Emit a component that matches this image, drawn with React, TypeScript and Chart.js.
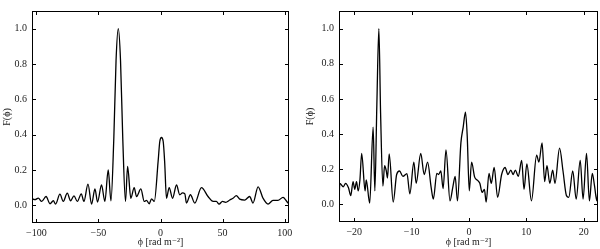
import React, { useEffect, useRef } from "react";
import { Chart, registerables } from "chart.js";
Chart.register(...registerables);

// ---- Data ----
const leftPhi = [
  -103.5, -101.1, -98.4, -95.7, -92.2, -89.0, -86.3, -84.5, -81.0, -78.3,
  -75.1, -72.4, -69.7, -67.0, -63.8, -61.7, -58.4, -55.5, -52.8, -50.7,
  -47.5, -44.8, -42.1, -39.9, -37.6, -35.8, -34.0, -32.2, -30.4, -28.2,
  -26.5, -23.9, -21.2, -19.3, -15.8, -13.1, -11.3, -9.1, -7.2, -5.0,
  -1.9, -0.6, 0.8, 2.2, 3.4, 4.8, 7.0, 9.7, 12.9, 15.5,
  17.7, 19.6, 20.9, 24.1, 27.6, 33.0, 38.3, 42.4, 45.0, 47.2,
  49.9, 52.5, 55.8, 58.4, 61.1, 63.8, 67.8, 71.8, 74.5, 78.6,
  82.6, 86.6, 90.6, 94.6, 98.7, 102.7, 103.5,
];
const leftF = [
  0.037, 0.032, 0.041, 0.022, 0.05, 0.009, 0.026, 0.007, 0.063, 0.022,
  0.069, 0.026, 0.054, 0.022, 0.065, 0.022, 0.12, 0.007, 0.093, 0.019,
  0.115, 0.022, 0.2, 0.025, 0.38, 0.82, 1.0, 0.82, 0.38, 0.022,
  0.22, 0.04, 0.1, 0.05, 0.093, 0.022, 0.028, 0.009, 0.037, 0.022,
  0.25, 0.36, 0.384, 0.36, 0.24, 0.04, 0.1, 0.04, 0.115, 0.06,
  0.07, 0.065, 0.013, 0.06, 0.013, 0.1, 0.05, 0.022, 0.022, 0.007,
  0.022, 0.017, 0.03, 0.04, 0.055, 0.035, 0.03, 0.05, 0.013, 0.105,
  0.04, 0.007, 0.028, 0.028, 0.045, 0.013, 0.01,
];

const rightPhi = [
  -22.65, -22.5, -21.9, -21.5, -21.0, -20.6, -20.2, -19.9, -19.6, -19.3,
  -19.0, -18.7, -18.1, -17.9, -17.3, -16.7, -16.4, -16.05, -15.7, -15.4,
  -15.0, -14.7, -14.4, -14.2, -13.9, -13.2, -12.6, -12.1, -11.5, -10.8,
  -10.3, -9.6, -9.2, -8.4, -7.8, -7.2, -6.6, -6.2, -5.6, -5.3,
  -4.9, -4.5, -4.0, -3.3, -2.8, -2.4, -2.0, -1.4, -1.0, -0.6,
  -0.3, 0.06, 0.46, 1.0, 1.5, 1.9, 2.3, 2.7, 3.0, 3.5,
  3.9, 4.4, 5.0, 5.7, 6.3, 6.8, 7.3, 7.7, 8.1, 8.6,
  9.2, 9.6, 10.1, 10.9, 11.8, 12.2, 12.75, 13.2, 13.6, 14.1,
  14.6, 15.0, 15.8, 16.4, 17.0, 17.4, 18.1, 18.7, 19.4, 19.9,
  20.5, 21.0, 21.5, 21.9, 22.3, 22.7,
];
const rightF = [
  0.02, 0.12, 0.1, 0.12, 0.095, 0.05, 0.13, 0.086, 0.13, 0.077,
  0.14, 0.29, 0.077, 0.14, 0.007, 0.44, 0.077, 0.57, 1.0, 0.52,
  0.104, 0.22, 0.19, 0.15, 0.287, 0.013, 0.17, 0.19, 0.16, 0.175,
  0.06, 0.24, 0.12, 0.29, 0.17, 0.24, 0.1, 0.03, 0.177, 0.17,
  0.19, 0.09, 0.31, 0.02, 0.1, 0.16, 0.02, 0.35, 0.44, 0.525,
  0.39, 0.077, 0.24, 0.155, 0.137, 0.12, 0.068, 0.086, 0.013, 0.177,
  0.12, 0.21, 0.04, 0.17, 0.21, 0.17, 0.195, 0.17, 0.195, 0.16,
  0.25, 0.086, 0.23, 0.02, 0.28, 0.24, 0.35, 0.13, 0.22, 0.12,
  0.195, 0.12, 0.32, 0.19, 0.05, 0.04, 0.19, 0.03, 0.25, 0.03,
  0.29, 0.02, 0.177, 0.104, 0.02, 0.24,
];

const leftXTicks = [-100, -50, 0, 50, 100];
const rightXTicks = [-20, -10, 0, 10, 20];
const yTicks = [0, 0.2, 0.4, 0.6, 0.8, 1.0];
const yTitle = "F(ϕ)";
const xTitle = "ϕ [rad m⁻²]";

const FONT = "'Liberation Serif', 'DejaVu Serif', serif";

const framePlugin = {
  id: "frameTicks",
  afterDatasetsDraw(chart: any) {
    const { ctx, chartArea: a, scales } = chart;
    ctx.save();
    ctx.strokeStyle = "#000";
    ctx.lineWidth = 1;
    ctx.strokeRect(a.left + 0.5, a.top + 0.5, a.right - a.left - 1, a.bottom - a.top - 1);
    ctx.beginPath();
    const L = 4;
    scales.x.ticks.forEach((t: any) => {
      const px = Math.round(scales.x.getPixelForValue(t.value)) + 0.5;
      ctx.moveTo(px, a.bottom);
      ctx.lineTo(px, a.bottom - L);
      ctx.moveTo(px, a.top);
      ctx.lineTo(px, a.top + L);
    });
    scales.y.ticks.forEach((t: any) => {
      const py = Math.round(scales.y.getPixelForValue(t.value)) + 0.5;
      ctx.moveTo(a.left, py);
      ctx.lineTo(a.left + L, py);
      ctx.moveTo(a.right, py);
      ctx.lineTo(a.right - L, py);
    });
    ctx.stroke();
    ctx.restore();
  },
};

const fmt = (v: number) => (v < 0 ? "\u2212" + Math.abs(v) : String(v));

type PanelProps = {
  phi: number[];
  f: number[];
  xTicks: number[];
  xMin: number;
  xMax: number;
  yWidth: number;
  xHeight: number;
  padRight: number;
  padTop: number;
  yTitlePad: number;
  left: number;
};

function Panel(p: PanelProps) {
  const ref = useRef<HTMLCanvasElement | null>(null);
  useEffect(() => {
    if (!ref.current) return;
    const chart = new Chart(ref.current, {
      type: "line",
      data: {
        datasets: [
          {
            data: p.phi.map((x, i) => ({ x, y: p.f[i] })),
            borderColor: "#000",
            borderWidth: 1.3,
            pointRadius: 0,
            cubicInterpolationMode: "monotone",
            fill: false,
          },
        ],
      },
      options: {
        animation: false,
        responsive: false,
        devicePixelRatio: 1,
        layout: { padding: { top: p.padTop, right: p.padRight, left: 0, bottom: 0 } },
        plugins: { legend: { display: false }, tooltip: { enabled: false } },
        scales: {
          x: {
            type: "linear",
            min: p.xMin,
            max: p.xMax,
            grid: { display: false, drawTicks: false },
            border: { display: false },
            afterBuildTicks: (s: any) => {
              s.ticks = p.xTicks.map((v) => ({ value: v }));
            },
            afterFit: (s: any) => {
              s.height = p.xHeight;
            },
            ticks: {
              color: "#222",
              font: { family: FONT, size: 10 },
              padding: 4,
              maxRotation: 0,
              callback: (v: any) => fmt(Number(v)),
            },
            title: {
              display: true,
              text: xTitle,
              color: "#222",
              font: { family: FONT, size: 10 },
              padding: { top: 0, bottom: 1 },
            },
          },
          y: {
            type: "linear",
            min: -0.1,
            max: 1.1,
            grid: { display: false, drawTicks: false },
            border: { display: false },
            afterBuildTicks: (s: any) => {
              s.ticks = yTicks.map((v) => ({ value: v }));
            },
            afterFit: (s: any) => {
              s.width = p.yWidth;
            },
            ticks: {
              color: "#222",
              font: { family: FONT, size: 10 },
              padding: 5,
              callback: (v: any) => Number(v).toFixed(1),
            },
            title: {
              display: true,
              text: yTitle,
              color: "#222",
              font: { family: FONT, size: 10 },
              padding: { top: p.yTitlePad, bottom: 0 },
            },
          },
        },
      },
      plugins: [framePlugin],
    } as any);
    return () => chart.destroy();
  }, []);
  return (
    <canvas
      ref={ref}
      width={300}
      height={249}
      style={{ position: "absolute", left: p.left, top: 0, width: 300, height: 249 }}
    />
  );
}

export default function App() {
  useEffect(() => {
    document.body.style.margin = "0";
    document.body.style.background = "#fff";
  }, []);
  return (
    <div style={{ position: "absolute", left: 0, top: 0, width: 600, height: 249, background: "#fff" }}>
      <Panel
        phi={leftPhi}
        f={leftF}
        xTicks={leftXTicks}
        xMin={-103.5}
        xMax={103.5}
        yWidth={32}
        xHeight={26}
        padRight={11}
        padTop={4}
        yTitlePad={1}
        left={0}
      />
      <Panel
        phi={rightPhi}
        f={rightF}
        xTicks={rightXTicks}
        xMin={-22.65}
        xMax={22.5}
        yWidth={39}
        xHeight={27}
        padRight={2}
        padTop={4}
        yTitlePad={4}
        left={300}
      />
    </div>
  );
}
